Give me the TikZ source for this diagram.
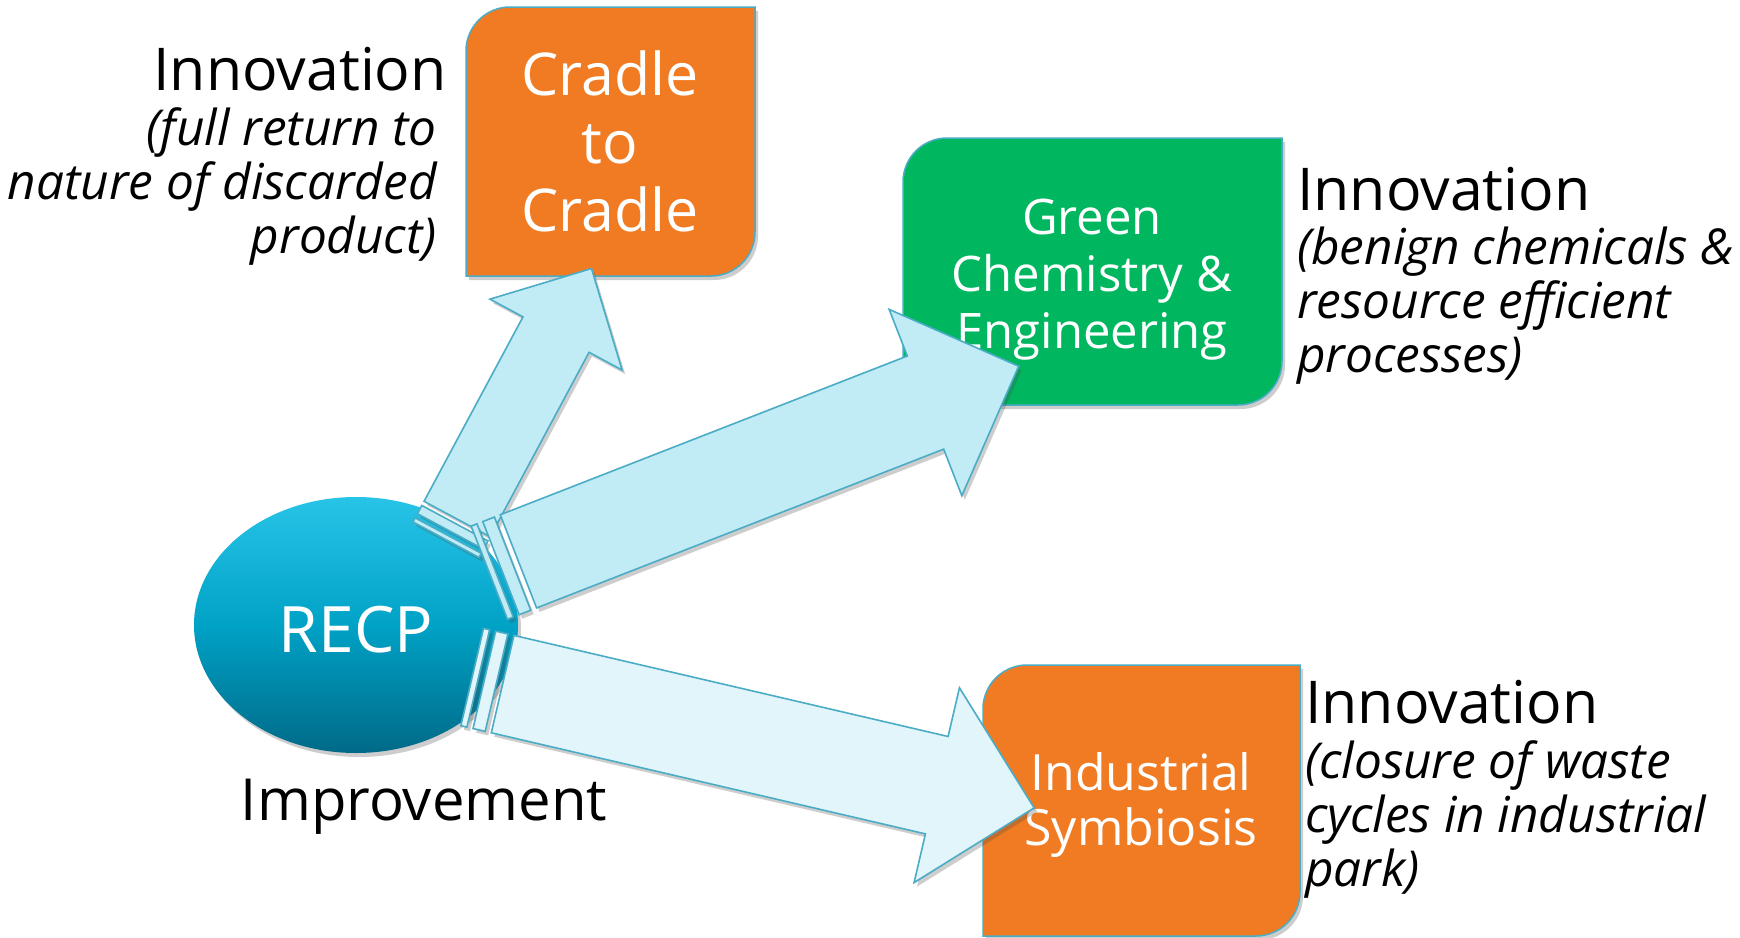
\documentclass[tikz,border=0pt]{standalone}
\usepackage{fontspec}
\setmainfont{Open Sans}
\usetikzlibrary{calc,shapes.geometric,shadows}

\definecolor{boxorange}{RGB}{240,123,35}
\definecolor{boxgreen}{RGB}{0,183,96}
\definecolor{edgeblue}{RGB}{75,172,198}
\definecolor{arrowfill}{RGB}{193,235,245}
\definecolor{arrowpale}{RGB}{225,245,250}
\definecolor{recptop}{RGB}{40,196,232}
\definecolor{recpmid}{RGB}{0,162,198}
\definecolor{recpbot}{RGB}{0,106,136}

\tikzset{
  softshadow/.style={drop shadow={shadow xshift=3pt, shadow yshift=-4pt, opacity=0.28, fill=black!70}},
  boxshape/.style={draw=edgeblue, line width=1.5pt, softshadow},
  boxtext/.style={text=white, inner sep=0pt, align=center, anchor=north},
  blockarrow/.style={draw=edgeblue, line width=1.6pt, line join=miter, softshadow},
  headline/.style={inner sep=0pt, font=\fontsize{59}{70}\selectfont},
  notetext/.style={inner sep=0pt, font=\itshape\fontsize{49.5}{54}\selectfont},
}

% box with rounded top-left and bottom-right corners: #1 left, #2 top, #3 right, #4 bottom, #5 fill
\newcommand\cornerbox[5]{%
  \path[boxshape, fill=#5]
    (#1,#2+44) .. controls (#1,#2+19.7) and (#1+19.7,#2) .. (#1+44,#2)
    -- (#3,#2) -- (#3,#4-44)
    .. controls (#3,#4-19.7) and (#3-19.7,#4) .. (#3-44,#4)
    -- (#1,#4) -- cycle;
}

% striped block arrow: #1 tail, #2 tip, #3 head width, #4 fill
\newcommand\stripedarrow[4]{%
  \path[blockarrow, fill=#4]
    let \p1=(#1), \p2=(#2),
        \n1={atan2(\y2-\y1,\x2-\x1)}, \n2={veclen(\x2-\x1,\y2-\y1)} in
    [shift={(\p1)}, rotate=\n1]
    (0,-#3/4) -- (#3/32,-#3/4) -- (#3/32,#3/4) -- (0,#3/4) -- cycle
    (#3/16,-#3/4) -- (#3/8,-#3/4) -- (#3/8,#3/4) -- (#3/16,#3/4) -- cycle
    (5*#3/32,-#3/4) -- (\n2-#3/2,-#3/4) -- (\n2-#3/2,-#3/2) -- (\n2,0)
      -- (\n2-#3/2,#3/2) -- (\n2-#3/2,#3/4) -- (5*#3/32,#3/4) -- cycle;
}

\begin{document}
\begin{tikzpicture}[x=1pt, y=-1pt]
  \fill[white] (0,0) rectangle (1740,937);
  \useasboundingbox (0,0) rectangle (1740,937);

  % target boxes
  \cornerbox{466}{7}{755}{276}{boxorange}
  \node[boxtext, font=\fontsize{59}{68}\selectfont] (cradle) at (610,50.2) {Cradle\\to\\Cradle};

  \cornerbox{903}{138}{1282}{405}{boxgreen}
  \node[boxtext, font=\fontsize{49}{57}\selectfont] (green) at (1092,199.2) {Green\\Chemistry \&\\Engineering};

  \cornerbox{983}{665}{1300}{936}{boxorange}
  \node[boxtext, font=\fontsize{50}{55}\selectfont] (symb) at (1141,752) {Industrial\\Symbiosis};

  % source
  \node[ellipse, minimum width=324pt, minimum height=256pt, inner sep=0pt,
        top color=recptop, bottom color=recpbot, middle color=recpmid,
        softshadow, text=white, text height=54pt, text depth=0pt,
        font=\fontsize{64}{64}\selectfont] (recp) at (356,625) {RECP};
  \node[anchor=base, inner sep=0pt, font=\fontsize{58}{66}\selectfont] (improve) at (424,820) {Improvement};

  % arrow end points
  \coordinate (a1t) at (446,539.7);
  \coordinate (a1h) at (591.5,268.5);
  \coordinate (a2t) at (489.3,572.7);
  \coordinate (a2h) at (1018.7,366.2);
  \coordinate (a3t) at (472.2,677);
  \coordinate (a3h) at (1034.2,807.9);

  \stripedarrow{a1t}{a1h}{150}{arrowfill}
  \stripedarrow{a2t}{a2h}{200}{arrowfill}
  \stripedarrow{a3t}{a3h}{200}{arrowpale}

  % side labels
  \node[headline, anchor=base east] (innovA) at (447,90) {Innovation};
  \node[notetext, align=right, anchor=north east] (noteA) at (437,107)
    {(full return to\\nature of discarded\\product)};

  \node[headline, anchor=base west] (innovB) at (1297,210) {Innovation};
  \node[notetext, align=left, anchor=north west] (noteB) at (1297,227)
    {(benign chemicals \&\\resource efficient\\processes)};

  \node[headline, anchor=base west] (innovC) at (1305,723) {Innovation};
  \node[notetext, align=left, anchor=north west] (noteC) at (1305,740)
    {(closure of waste\\cycles in industrial\\park)};
\end{tikzpicture}
\end{document}
